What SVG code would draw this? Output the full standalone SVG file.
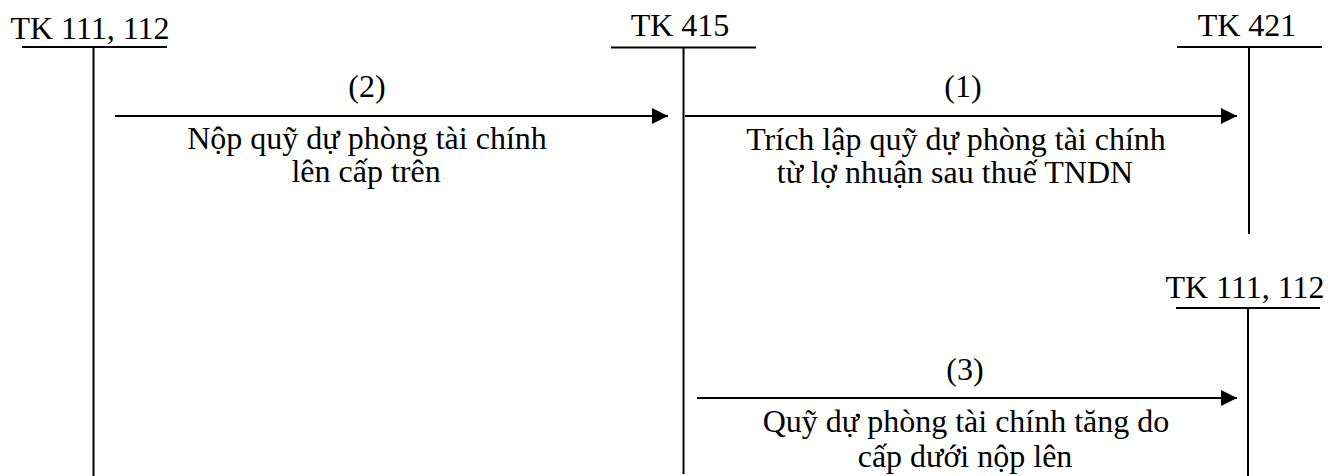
<svg xmlns="http://www.w3.org/2000/svg" width="1328" height="476" viewBox="0 0 1328 476">
<style>
text{font-family:"Liberation Serif","Times New Roman",serif;font-size:32px;fill:#000;text-anchor:middle}
.ln{stroke:#000;stroke-width:2;fill:none}
</style>
<defs>
<marker id="ah" markerUnits="userSpaceOnUse" markerWidth="18" markerHeight="18" refX="16" refY="8" orient="auto">
<path d="M0,0 L16,8 L0,16 Z" fill="#000"/>
</marker>
</defs>
<rect width="1328" height="476" fill="#fff"/>
<g id="tk111-112-left">
<text x="90" y="39">TK 111, 112</text>
<line class="ln" x1="22" y1="47" x2="167" y2="47"/>
<line class="ln" x1="93.5" y1="47" x2="93.5" y2="476"/>
</g>
<g id="tk415">
<text x="680" y="36">TK 415</text>
<line class="ln" x1="611" y1="47.5" x2="756" y2="47.5"/>
<line class="ln" x1="683.5" y1="47.5" x2="683.5" y2="474"/>
</g>
<g id="tk421">
<text x="1247" y="36">TK 421</text>
<line class="ln" x1="1177" y1="47" x2="1322" y2="47"/>
<line class="ln" x1="1249" y1="47" x2="1249" y2="234"/>
</g>
<g id="tk111-112-right">
<text x="1245" y="298">TK 111, 112</text>
<line class="ln" x1="1176" y1="308" x2="1320" y2="308"/>
<line class="ln" x1="1248" y1="308" x2="1248" y2="476"/>
</g>
<g id="connectors">
<line class="ln" x1="115" y1="116" x2="668" y2="116" marker-end="url(#ah)"/>
<line class="ln" x1="685" y1="116" x2="1237" y2="116" marker-end="url(#ah)"/>
<line class="ln" x1="697" y1="398" x2="1237" y2="398" marker-end="url(#ah)"/>
</g>
<g id="labels">
<text x="367" y="97">(2)</text>
<text x="367" y="149">Nộp quỹ dự phòng tài chính</text>
<text x="366" y="182">lên cấp trên</text>
<text x="963" y="97">(1)</text>
<text x="956" y="150">Trích lập quỹ dự phòng tài chính</text>
<text x="955" y="183">từ lợ nhuận sau thuế TNDN</text>
<text x="965" y="380">(3)</text>
<text x="966" y="432">Quỹ dự phòng tài chính tăng do</text>
<text x="965" y="467">cấp dưới nộp lên</text>
</g>
</svg>
